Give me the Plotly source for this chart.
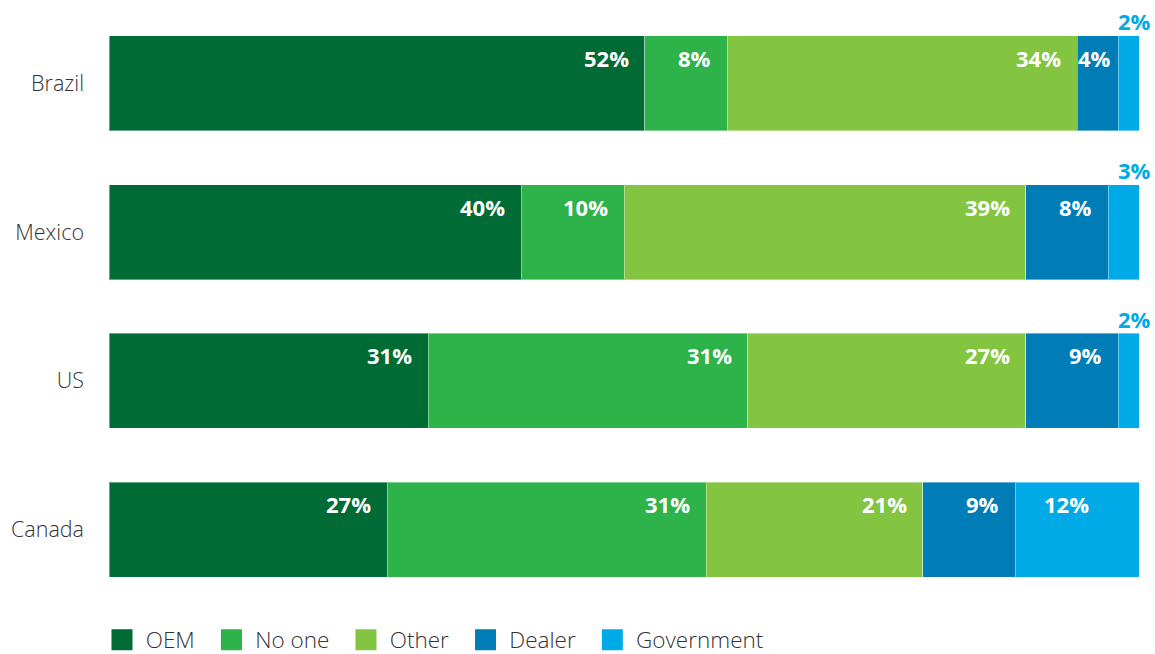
import plotly.graph_objects as go

countries = ["Brazil", "Mexico", "US", "Canada"]
series_names = ["OEM", "No one", "Other", "Dealer", "Government"]
oem = [52, 40, 31, 27]
no_one = [8, 10, 31, 31]
other = [34, 39, 27, 21]
dealer = [4, 8, 9, 9]
government = [2, 3, 2, 12]

colors = ["#006B35", "#2EB34B", "#83C441", "#007CB7", "#00AAE6"]
series_values = [oem, no_one, other, dealer, government]

fig = go.Figure()

for name, vals, col in zip(series_names, series_values, colors):
    fig.add_trace(go.Bar(
        y=countries, x=vals, orientation="h", name=name,
        marker=dict(color=col, line=dict(color="rgba(255,255,255,0.4)", width=1)),
        showlegend=False, hoverinfo="skip",
    ))
    # legend proxy with larger square markers
    fig.add_trace(go.Scatter(
        x=[None], y=[None], mode="markers", name="\u2009" + name + "\u00a0\u00a0",
        marker=dict(symbol="square", size=16, color=col,
                    line=dict(color=col, width=5)),
        showlegend=True,
    ))

# labels
special_shift = {("Brazil", "Dealer"): -5, ("Canada", "Government"): -48}
annotations = []
for ci, c in enumerate(countries):
    cum = 0
    for si, (name, vals) in enumerate(zip(series_names, series_values)):
        v = vals[ci]
        cum += v
        if v <= 3:
            annotations.append(dict(
                x=cum, y=c, xref="x", yref="y", text=f"<b>{v}%</b>",
                showarrow=False, xanchor="right", yanchor="middle",
                xshift=14, yshift=62,
                font=dict(family="Open Sans", size=22, color=colors[4]),
            ))
        else:
            annotations.append(dict(
                x=cum, y=c, xref="x", yref="y", text=f"<b>{v}%</b>",
                showarrow=False, xanchor="right", yanchor="middle",
                xshift=special_shift.get((c, name), -14), yshift=25.5,
                font=dict(family="Open Sans", size=22, color="white"),
            ))

fig.update_layout(
    width=1155, height=654,
    barmode="stack", bargap=0.36,
    margin=dict(l=109, r=16, t=9, b=50),
    plot_bgcolor="white", paper_bgcolor="white",
    font=dict(family="Open Sans", color="#333333"),
    annotations=annotations,
    legend=dict(
        orientation="h",
        xref="container", x=0.0883, xanchor="left",
        yref="container", y=0.0214, yanchor="middle",
        traceorder="normal",
        font=dict(family="Open Sans", size=22.5, color="#333333", weight=300),
        itemwidth=30, tracegroupgap=0,
    ),
    xaxis=dict(range=[0, 100], visible=False, fixedrange=True),
    yaxis=dict(
        categoryorder="array", categoryarray=countries, autorange="reversed",
        showgrid=False, zeroline=False, showline=False, ticks="",
        ticklabelstandoff=24, fixedrange=True,
        tickfont=dict(family="Open Sans", size=21.5, color="#333333", weight=300),
    ),
)

fig.write_html("out.html", config={"displayModeBar": False},
               post_script="document.body.style.margin='0';")
